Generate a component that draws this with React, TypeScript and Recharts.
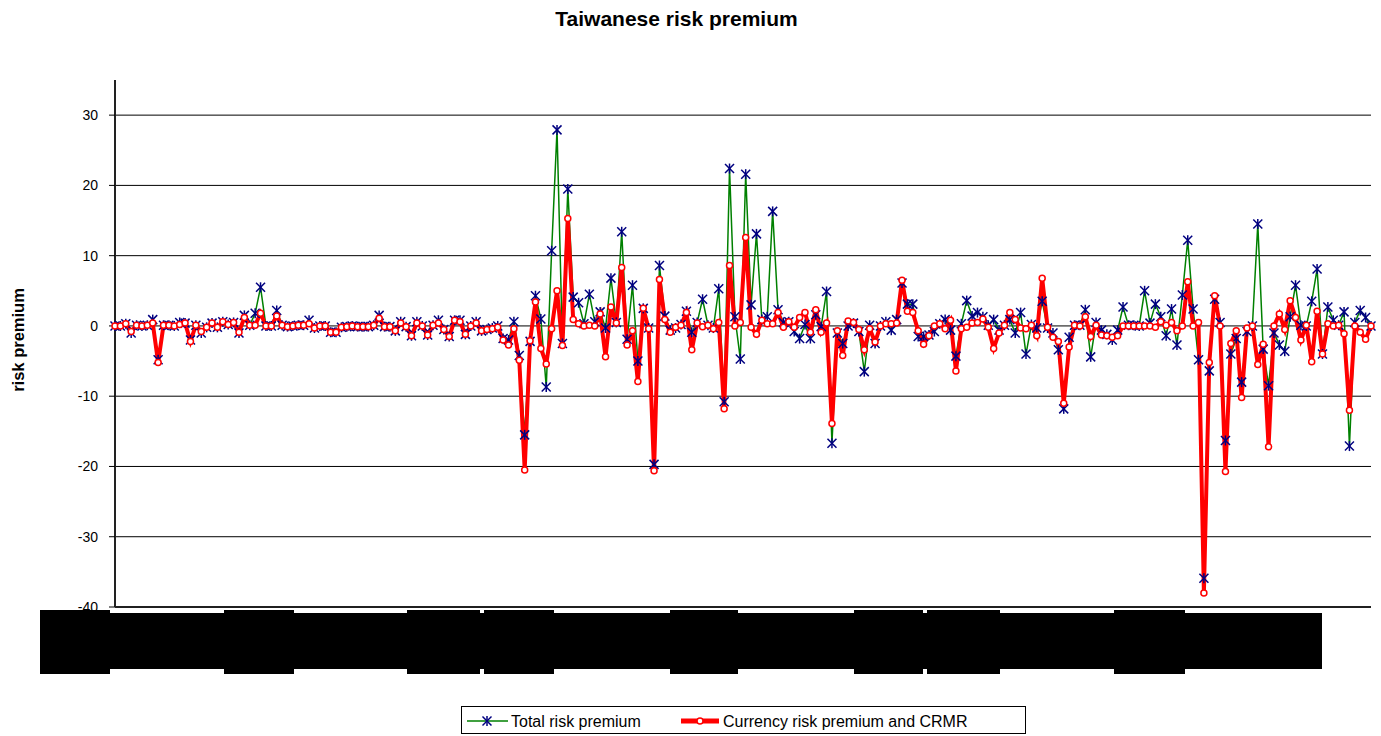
import React from "react";
import { LineChart, Line, XAxis, YAxis, CartesianGrid } from "recharts";

// Currency risk premium and CRMR (red), one value per period
const currency = [
  0, 0, 0.3, -0.8, 0.1, 0, 0.1, 0.4, -5.2, 0.1,
  0.1, 0, 0.2, 0.4, -2.2, 0.1, -0.8, -0.2, 0.4, -0.2,
  0.6, 0.2, 0.5, -0.9, 1.2, 0.1, 0.1, 1.8, 0, 0,
  1.4, 0.1, -0.1, 0, 0.1, 0.1, 0.3, -0.3, 0, 0,
  -0.9, -0.9, -0.2, -0.1, 0, -0.1, -0.1, -0.1, 0.1, 1.1,
  -0.1, -0.1, -0.7, 0.4, -0.1, -1.4, 0.4, 0, -1.3, 0.1,
  0.4, -0.5, -1.5, 0.8, 0.6, -1.2, 0, 0.4, -0.7, -0.5,
  -0.4, -0.2, -2.0, -2.7, -0.4, -4.9, -20.5, -2.1, 3.4, -3.2,
  -5.4, -0.4, 5.0, -2.8, 15.3, 0.9, 0.3, 0, 0.1, 0,
  1.7, -4.4, 2.7, 0.4, 8.3, -2.7, -0.7, -7.9, 2.5, -0.4,
  -20.6, 6.6, 0.9, -0.9, -0.2, 0.1, 1.9, -3.4, 0.4, -0.1,
  0.1, -0.4, 0.5, -11.8, 8.6, 0, 0.5, 12.6, -0.2, -1.2,
  0.8, 0.3, 0.3, 1.9, -0.2, 0.6, -0.2, 1.2, 1.9, -0.9,
  2.3, -0.9, 0.4, -13.9, -0.7, -4.2, 0.7, 0.5, -0.5, -3.4,
  -0.4, -2.3, 0, 0.3, 0.3, 0.4, 6.5, 2.1, 1.9, -0.7,
  -2.6, -1.4, 0, 0.3, -0.4, 0.8, -6.4, -0.4, -0.2, 0.4,
  0.5, 1.0, -0.2, -3.2, -1.0, 0.1, 1.9, 0.9, -0.3, -0.4,
  0.1, -1.4, 6.8, -0.2, -1.6, -2.2, -11.0, -3.0, 0.1, 0,
  1.3, -1.5, 0.1, -1.3, -1.4, -1.6, -1.4, 0, 0, 0,
  0, 0, 0, -0.2, 0.6, 0.1, 0.5, -0.7, 0, 6.3,
  0, 0.5, -38.0, -5.2, 4.3, 0, -20.7, -2.5, -0.7, -10.2,
  -0.3, 0, -5.5, -2.6, -17.2, 0, 1.7, -0.5, 3.6, 1.2,
  -2.0, 0.1, -5.1, 2.1, -4.0, 0.3, 0, 0.1, -1.1, -12.0,
  0, -0.9, -1.9, 0,
];

// Total risk premium (green line, navy stars)
const total = [
  0, 0, 0.3, -1.0, 0.1, 0, 0.1, 0.9, -4.8, 0.1,
  0.1, 0, 0.5, 0.4, -2.0, 0.1, -1.0, -0.2, 0.4, -0.2,
  0.6, 0.2, 0.5, -1.0, 1.5, 0.1, 1.8, 5.5, 0, 0,
  2.2, 0.1, -0.1, 0, 0.1, 0.1, 0.8, -0.3, 0, 0,
  -0.9, -0.9, -0.2, -0.1, 0, -0.1, -0.1, -0.1, 0.1, 1.5,
  -0.1, -0.1, -0.7, 0.6, -0.1, -1.4, 0.6, 0, -1.3, 0.1,
  0.8, -0.5, -1.5, 0.8, 0.8, -1.2, 0, 0.6, -0.7, -0.5,
  -0.3, 0, -1.8, -2.0, 0.6, -4.2, -15.5, -2.2, 4.3, 1.0,
  -8.7, 10.7, 27.9, -2.5, 19.5, 4.1, 3.3, 0.3, 4.5, 0.6,
  2.0, -0.3, 6.8, 0.5, 13.4, -1.9, 5.8, -5.0, 2.5, -0.3,
  -19.7, 8.6, 1.4, -0.6, -0.3, 0.2, 2.1, -0.9, 0.5, 3.8,
  0.1, -0.3, 5.3, -10.8, 22.4, 1.3, -4.7, 21.6, 3.0, 13.1,
  0.9, 1.3, 16.3, 2.3, 0.5, 0.6, -0.8, -1.8, 0.2, -1.8,
  1.6, -0.1, 4.9, -16.7, -1.0, -2.5, 0, 0.4, -0.8, -6.5,
  0.1, -2.5, 0, 0.6, -0.6, 0.9, 6.1, 3.1, 3.1, -1.5,
  -1.5, -1.3, -0.8, 0.3, 0.9, -0.6, -4.3, 0.3, 3.6, 1.4,
  1.9, 1.3, 0.1, 0.9, -0.6, 0.1, 0.9, -1.0, 1.9, -4.0,
  0.2, -0.3, 3.5, -0.3, -1.0, -3.4, -11.8, -1.6, 0.1, 0.1,
  2.3, -4.4, 0.5, -0.6, -1.2, -2.0, -0.6, 2.7, 0.1, 0.1,
  0, 5.0, 0.4, 3.1, 1.3, -1.4, 2.4, -2.7, 4.4, 12.2,
  2.4, -4.8, -35.9, -6.4, 3.8, 0.5, -16.3, -4.0, -1.8, -8.0,
  -0.8, 0, 14.5, -3.3, -8.5, -1.0, -2.7, -3.6, 1.3, 5.8,
  0.1, 0, 3.5, 8.1, -4.0, 2.7, 0.8, 0.1, 2.0, -17.1,
  0.5, 2.2, 1.2, 0,
];

const yTicks = [-40, -30, -20, -10, 0, 10, 20, 30];

const data = currency.map((c, i) => ({ i, currency: c, total: total[i] }));

// redacted category labels under the axis
const labelBlocks = [
  [40, 110], [224, 294], [407, 480], [484, 554],
  [670, 738], [854, 923], [927, 1000], [1114, 1185],
];

const FONT = "'Liberation Sans', Arial, sans-serif";

function StarDot(props: any) {
  const { cx, cy, index } = props;
  if (cx == null || cy == null) return null;
  const s = 4.5;
  return (
    <g key={`star-${index}`} stroke="#000080" strokeWidth={1.5}>
      <line x1={cx - s} y1={cy - s} x2={cx + s} y2={cy + s} />
      <line x1={cx - s} y1={cy + s} x2={cx + s} y2={cy - s} />
      <line x1={cx} y1={cy - s - 0.5} x2={cx} y2={cy + s + 0.5} />
    </g>
  );
}

function YLabel() {
  return (
    <text
      x={18}
      y={340}
      transform="rotate(-90 18 340)"
      textAnchor="middle"
      dominantBaseline="central"
      fontFamily={FONT}
      fontWeight="bold"
      fontSize={16.5}
      fill="#000"
    >
      risk premium
    </text>
  );
}

export default function App() {
  return (
    <div style={{ position: "relative", width: 1381, height: 736, background: "#fff", fontFamily: FONT }}>
      <style>{"body{margin:0}"}</style>
      <div
        style={{
          position: "absolute",
          top: 7,
          left: 0,
          width: 1353,
          textAlign: "center",
          fontSize: 21,
          fontWeight: "bold",
        }}
      >
        Taiwanese risk premium
      </div>
      <LineChart
        width={1381}
        height={736}
        data={data}
        margin={{ top: 80, right: 10, bottom: 128, left: 0 }}
      >
        <CartesianGrid
          vertical={false}
          horizontalValues={yTicks}
          stroke="#000"
          strokeWidth={1}
        />
        <XAxis
          dataKey="i"
          tick={false}
          tickLine={false}
          height={1}
          axisLine={{ stroke: "#000", strokeWidth: 1.5 }}
        />
        <YAxis
          domain={[-40, 35]}
          ticks={yTicks}
          width={115}
          allowDataOverflow
          tick={{ fontSize: 14, fill: "#000", fontFamily: FONT }}
          tickLine={{ stroke: "#000" }}
          tickMargin={11}
          axisLine={{ stroke: "#222", strokeWidth: 2 }}
          label={{ content: <YLabel /> }}
        />
        <Line
          dataKey="total"
          stroke="#008000"
          strokeWidth={1.5}
          dot={<StarDot />}
          isAnimationActive={false}
        />
        <Line
          dataKey="currency"
          stroke="#ff0000"
          strokeWidth={4}
          strokeLinejoin="miter"
          dot={{ r: 3, fill: "#fff", stroke: "#ff0000", strokeWidth: 1.5 }}
          isAnimationActive={false}
        />
      </LineChart>
      <div style={{ position: "absolute", left: 40, top: 613, width: 1282, height: 56, background: "#000" }} />
      {labelBlocks.map(([a, b]) => (
        <div key={a} style={{ position: "absolute", left: a, top: 610, width: b - a, height: 64, background: "#000" }} />
      ))}
      <div
        style={{
          position: "absolute",
          left: 461,
          top: 706,
          width: 563,
          height: 26,
          border: "1px solid #000",
          fontSize: 16,
          color: "#000",
        }}
      >
        <svg width={46} height={26} style={{ position: "absolute", left: 4, top: 0 }}>
          <line x1={1} y1={14} x2={42} y2={14} stroke="#008000" strokeWidth={1.5} />
          <StarDot cx={21} cy={14} index={0} />
        </svg>
        <span style={{ position: "absolute", left: 49, top: 6, whiteSpace: "nowrap" }}>Total risk premium</span>
        <svg width={44} height={26} style={{ position: "absolute", left: 217, top: 0 }}>
          <line x1={2} y1={14} x2={40} y2={14} stroke="#ff0000" strokeWidth={5} />
          <circle cx={21} cy={14} r={3} fill="#fff" stroke="#ff0000" strokeWidth={1.5} />
        </svg>
        <span style={{ position: "absolute", left: 261, top: 6, whiteSpace: "nowrap" }}>
          Currency risk premium and CRMR
        </span>
      </div>
    </div>
  );
}
